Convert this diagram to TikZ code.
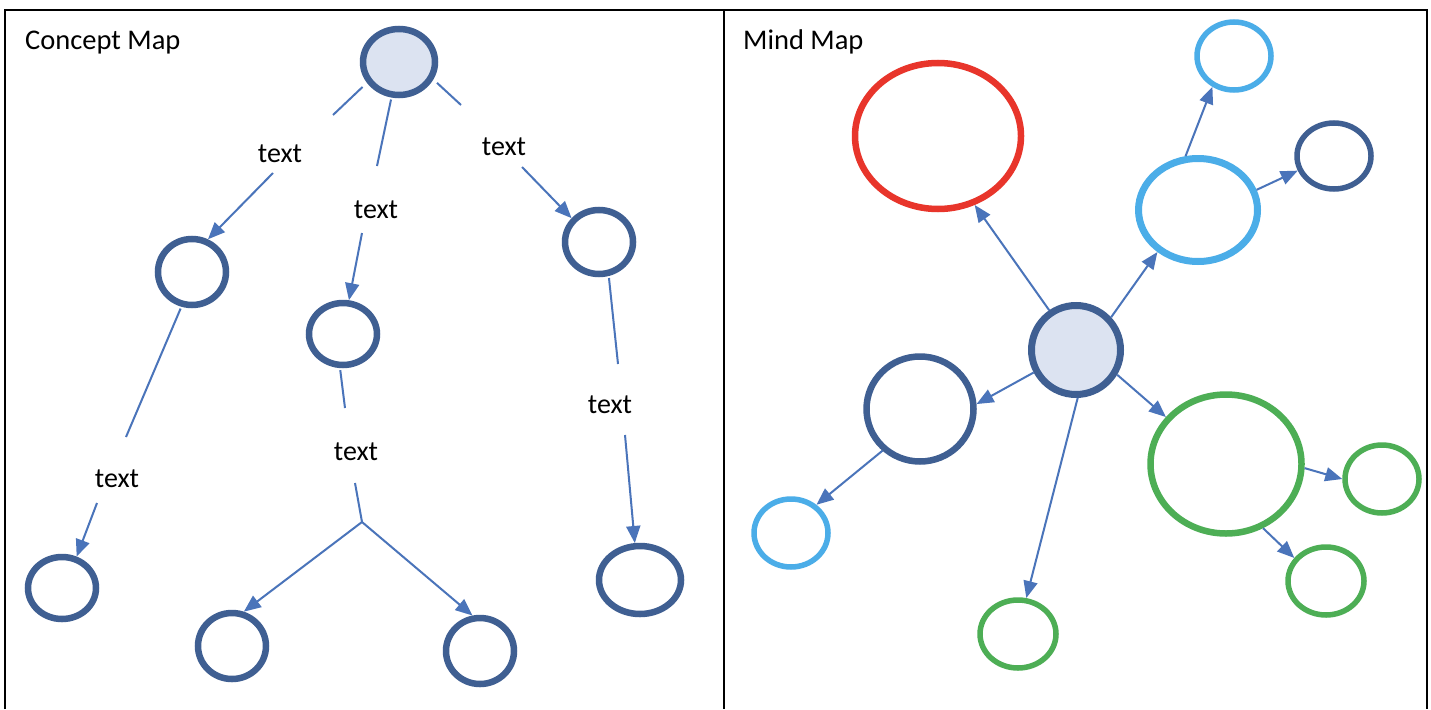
\documentclass[tikz,border=0pt]{standalone}
\usepackage{fontspec}
\setmainfont{Carlito}
\usetikzlibrary{shapes.geometric,arrows.meta}
\definecolor{dkblue}{HTML}{3F5F92}
\definecolor{lightfill}{HTML}{DCE3F1}
\definecolor{linkblue}{HTML}{4A74BA}
\definecolor{redc}{HTML}{E8352B}
\definecolor{ltblue}{HTML}{4BADE8}
\definecolor{greenc}{HTML}{4DAE55}
\tikzset{
  circ/.style={ellipse, draw=dkblue, line width=6.5pt, inner sep=0pt, fill=white},
  link/.style={draw=linkblue, line width=2pt},
  arr/.style={link, -{Triangle[length=17pt,width=14pt]}},
  lbl/.style={inner sep=0pt, anchor=base, font=\fontsize{28}{30}\selectfont},
  ttl/.style={inner sep=0pt, anchor=base west, font=\fontsize{28.5}{32}\selectfont},
  frame/.style={draw=black, line width=2pt},
}
\begin{document}
\begin{tikzpicture}[x=1pt,y=-1pt]
\useasboundingbox[fill=white] (0,0) rectangle (1431,709);
% frame
\draw[frame] (5,709) -- (5,10) -- (1427,10) -- (1427,709);
\draw[frame] (724,10) -- (724,709);
% titles
\node[ttl] (t-cm) at (25,49) {Concept Map};
\node[ttl] (t-mm) at (743,49) {Mind Map};

% ---------- Concept map ----------
\node[circ, fill=lightfill, minimum width=72pt, minimum height=66pt] (root) at (399,62) {};
\node[circ, minimum width=68pt, minimum height=66pt] (lc) at (192,272) {};
\node[circ, minimum width=68pt, minimum height=62pt] (mc) at (343,334) {};
\node[circ, minimum width=68pt, minimum height=64pt] (rc) at (599,242) {};
\node[circ, minimum width=68pt, minimum height=62pt] (lb) at (62,588) {};
\node[circ, minimum width=68pt, minimum height=66pt] (mbl) at (232,646) {};
\node[circ, minimum width=68pt, minimum height=66pt] (mbr) at (480,651) {};
\node[circ, minimum width=82pt, minimum height=68pt] (rb) at (640,580) {};

\node[lbl] (l1) at (280,162) {text};
\node[lbl] (l2) at (376,218) {text};
\node[lbl] (l3) at (504,155) {text};
\node[lbl] (l4) at (117,487) {text};
\node[lbl] (l5) at (356,460) {text};
\node[lbl] (l6) at (610,413) {text};

\coordinate (c1) at (333,115);
\coordinate (a1) at (273,173);
\coordinate (c2) at (377,166);
\coordinate (a2) at (362,233);
\coordinate (c3) at (461,105);
\coordinate (a3) at (522,167);
\coordinate (c4) at (126,437);
\coordinate (a4) at (97,503);
\coordinate (c5) at (345,408);
\coordinate (a5) at (355,483);
\coordinate (br) at (362,522);
\coordinate (c6) at (618,364);
\coordinate (a6) at (625,435);

\draw[link, shorten <=6pt] (root.213) -- (c1);
\draw[arr] (a1) -- (lc.64);
\draw[link, shorten <=2pt] (root.258) -- (c2);
\draw[arr] (a2) -- (mc.80);
\draw[link, shorten <=5pt] (root.333) -- (c3);
\draw[arr] (a3) -- (rc.139);
\draw[link, shorten <=2pt] (lc.253) -- (c4);
\draw[arr] (a4) -- (lb.65);
\draw[link, shorten <=2pt] (mc.265) -- (c5);
\draw[link] (a5) -- (br);
\draw[arr] (br) -- (mbl.71);
\draw[arr] (br) -- (mbr.102);
\draw[link, shorten <=2pt] (rc.286) -- (c6);
\draw[arr] (a6) -- (rb.98);

% ---------- Mind map ----------
\node[circ, fill=lightfill, line width=7pt, minimum width=89pt, minimum height=89pt] (cen) at (1076,350) {};
\node[circ, draw=redc, minimum width=166pt, minimum height=146pt] (red) at (938,136) {};
\node[circ, draw=ltblue, line width=5.5pt, minimum width=74pt, minimum height=68pt] (lbt) at (1234,56) {};
\node[circ, draw=ltblue, line width=7pt, minimum width=119pt, minimum height=103pt] (lbb) at (1198,210) {};
\node[circ, line width=5.5pt, minimum width=74pt, minimum height=66pt] (nav) at (1334,156) {};
\node[circ, line width=6.5pt, minimum width=107pt, minimum height=105pt] (dkl) at (920,409) {};
\node[circ, draw=ltblue, line width=5.5pt, minimum width=74pt, minimum height=68pt] (lbl) at (791,533) {};
\node[circ, draw=greenc, line width=5.5pt, minimum width=76pt, minimum height=68pt] (gb) at (1018,634) {};
\node[circ, draw=greenc, line width=6.5pt, minimum width=151pt, minimum height=139pt] (gbig) at (1226,464) {};
\node[circ, draw=greenc, line width=5.5pt, minimum width=74pt, minimum height=68pt] (gr) at (1382,479) {};
\node[circ, draw=greenc, line width=5.5pt, minimum width=76pt, minimum height=68pt] (gbr) at (1326,581) {};

\draw[arr] (cen.124) -- (red.298);
\draw[arr] (cen.43) -- (lbb.226);
\draw[arr] (lbb.103) -- (lbt.235);
\draw[arr] (lbb.19) -- (nav.202);
\draw[arr] (cen.208) -- (dkl.5);
\draw[arr] (dkl.228) -- (lbl.48);
\draw[arr] (cen.272) -- (gb.77);
\draw[arr] (cen.329) -- (gbig.142);
\draw[arr] (gbig.357) -- (gr.180);
\draw[arr] (gbig.300) -- (gbr.144);
\end{tikzpicture}
\end{document}
